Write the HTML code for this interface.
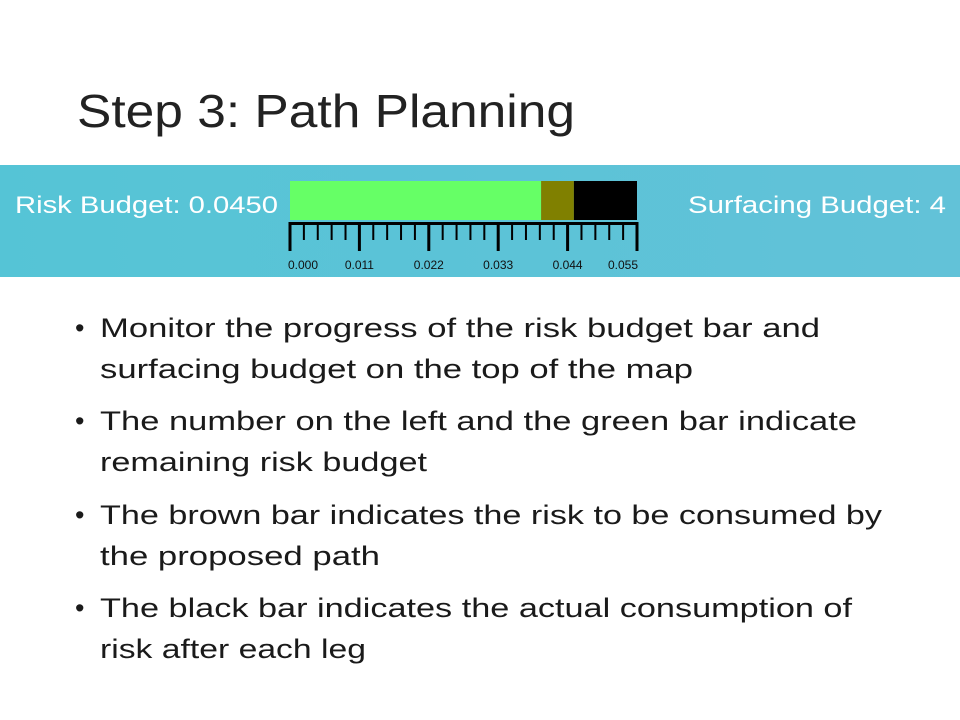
<!DOCTYPE html>
<html><head><meta charset="utf-8"><style>
html,body{margin:0;padding:0;background:#fff;}
svg{display:block;font-family:"Liberation Sans",sans-serif;}
</style></head><body>
<svg width="960" height="720" viewBox="0 0 960 720">
<defs><linearGradient id="bg" x1="0" x2="1" y1="0" y2="0"><stop offset="0" stop-color="#55c4d6"/><stop offset="1" stop-color="#62c2d8"/></linearGradient></defs>
<text x="77" y="127" font-size="46" fill="#222" textLength="498" lengthAdjust="spacingAndGlyphs">Step 3: Path Planning</text>
<rect x="0" y="165" width="960" height="112" fill="url(#bg)"/>
<text x="15" y="213" font-size="24" fill="#fff" textLength="263" lengthAdjust="spacingAndGlyphs">Risk Budget: 0.0450</text>
<text x="688" y="213" font-size="24" fill="#fff" textLength="258" lengthAdjust="spacingAndGlyphs">Surfacing Budget: 4</text>
<g id="bar"></g>
<g id="ruler"></g>
<g font-size="27" fill="#1a1a1a">
<text x="75" y="337">•</text>
<text x="100" y="337" textLength="720" lengthAdjust="spacingAndGlyphs">Monitor the progress of the risk budget bar and</text>
<text x="100" y="378" textLength="593" lengthAdjust="spacingAndGlyphs">surfacing budget on the top of the map</text>
<text x="75" y="430">•</text>
<text x="100" y="430" textLength="757" lengthAdjust="spacingAndGlyphs">The number on the left and the green bar indicate</text>
<text x="100" y="471" textLength="327" lengthAdjust="spacingAndGlyphs">remaining risk budget</text>
<text x="75" y="524">•</text>
<text x="100" y="524" textLength="782" lengthAdjust="spacingAndGlyphs">The brown bar indicates the risk to be consumed by</text>
<text x="100" y="565" textLength="280" lengthAdjust="spacingAndGlyphs">the proposed path</text>
<text x="75" y="617">•</text>
<text x="100" y="617" textLength="752" lengthAdjust="spacingAndGlyphs">The black bar indicates the actual consumption of</text>
<text x="100" y="658" textLength="266" lengthAdjust="spacingAndGlyphs">risk after each leg</text>
</g>
</svg>
<script>
const segNames = ['remaining', 'proposed', 'consumed'];
const segValues = [0.0398, 0.0052, 0.0100];
const segColors = ['#66ff66', '#808000', '#000000'];
const tickValues = [0, 0.011, 0.022, 0.033, 0.044, 0.055];
const tickLabels = ['0.000', '0.011', '0.022', '0.033', '0.044', '0.055'];
const NS = 'http://www.w3.org/2000/svg';
const x0 = 290, x1 = 637, vmax = 0.055;
function xs(v){ return x0 + v / vmax * (x1 - x0); }
const bar = document.getElementById('bar');
let acc = 0;
segValues.forEach((v, i) => {
  const r = document.createElementNS(NS, 'rect');
  r.setAttribute('x', xs(acc)); r.setAttribute('y', 181);
  r.setAttribute('width', xs(acc + v) - xs(acc)); r.setAttribute('height', 39);
  r.setAttribute('fill', segColors[i]);
  
  
  bar.appendChild(r);
  acc += v;
});
const ruler = document.getElementById('ruler');
const base = document.createElementNS(NS, 'rect');
base.setAttribute('x', x0 - 1); base.setAttribute('y', 222); base.setAttribute('width', x1 - x0 + 2); base.setAttribute('height', 3);
base.setAttribute('fill', '#000');


ruler.appendChild(base);
for (let i = 0; i < tickValues.length; i++) {
  const t = document.createElementNS(NS, 'rect');
  t.setAttribute('x', xs(tickValues[i]) - 1.5); t.setAttribute('y', 222); t.setAttribute('width', 3); t.setAttribute('height', 29);
  t.setAttribute('fill', '#000');
  
  
  ruler.appendChild(t);
  const l = document.createElementNS(NS, 'text');
  const last = i === tickValues.length - 1;
  l.setAttribute('x', i === 0 ? xs(tickValues[i]) - 2 : last ? xs(tickValues[i]) + 1 : xs(tickValues[i]));
  l.setAttribute('y', 269);
  l.setAttribute('font-size', '12');
  l.setAttribute('text-anchor', i === 0 ? 'start' : last ? 'end' : 'middle');
  l.setAttribute('fill', '#111');
  l.textContent = tickLabels[i];
  
  
  ruler.appendChild(l);
  if (i < tickValues.length - 1) {
    for (let k = 1; k < 5; k++) {
      const v = tickValues[i] + (tickValues[i + 1] - tickValues[i]) * k / 5;
      const m = document.createElementNS(NS, 'rect');
      m.setAttribute('x', xs(v) - 1); m.setAttribute('y', 222); m.setAttribute('width', 2); m.setAttribute('height', 18);
      m.setAttribute('fill', '#000');
      
      
      ruler.appendChild(m);
    }
  }
}
</script>
</body></html>
